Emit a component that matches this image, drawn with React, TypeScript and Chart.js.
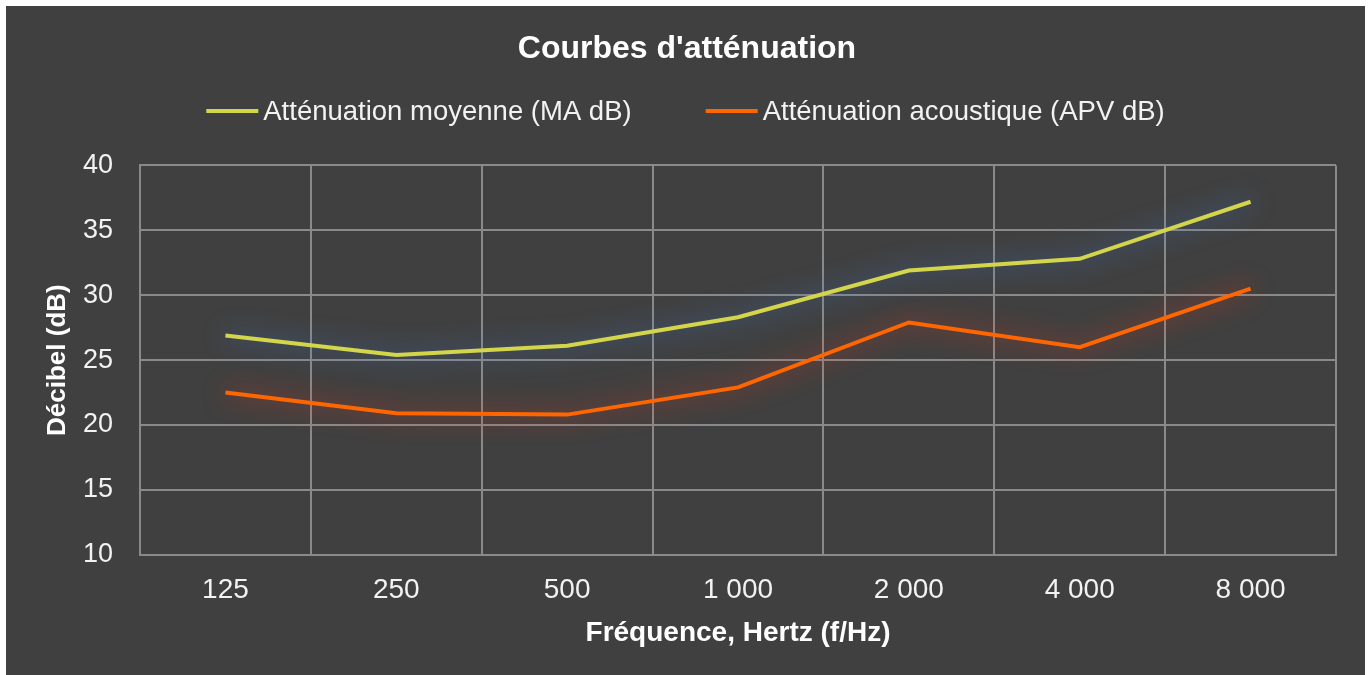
import React, { useEffect, useRef } from "react";
import { Chart, registerables } from "chart.js";

Chart.register(...registerables);

const categories = ["125", "250", "500", "1 000", "2 000", "4 000", "8 000"];
const meanAttenuation = [26.9, 25.4, 26.1, 28.3, 31.9, 32.8, 37.2];
const acousticAttenuation = [22.5, 20.9, 20.8, 22.9, 27.9, 26.0, 30.5];
const seriesLabels = ["Atténuation moyenne (MA dB)", "Atténuation acoustique (APV dB)"];
const yTicks = [10, 15, 20, 25, 30, 35, 40];

const LINE_COLORS = ["#d3d64b", "#ff6600"];
const GLOW_COLORS = ["rgba(70,120,195,0.95)", "rgba(225,55,25,0.9)"];
const FONT = "'Liberation Sans', Arial, sans-serif";

const glowPlugin = {
  id: "glow",
  beforeDatasetDraw(chart: any, args: any) {
    const ctx = chart.ctx;
    ctx.save();
    ctx.shadowColor = GLOW_COLORS[args.index];
    ctx.shadowBlur = 24;
    ctx.shadowOffsetX = 0;
    ctx.shadowOffsetY = 0;
  },
  afterDatasetDraw(chart: any) {
    chart.ctx.restore();
  },
};

const legendPlugin = {
  id: "customLegend",
  afterDraw(chart: any) {
    const ctx = chart.ctx;
    ctx.save();
    ctx.font = `27.5px ${FONT}`;
    const boxW = 52;
    const gap = 5;
    const itemGap = 74;
    const widths = chart.data.datasets.map((d: any) => ctx.measureText(d.label).width);
    let total = 0;
    widths.forEach((w: number, i: number) => {
      total += boxW + gap + w + (i > 0 ? itemGap : 0);
    });
    let x = chart.width / 2 - total / 2;
    const y = 105;
    chart.data.datasets.forEach((d: any, i: number) => {
      ctx.fillStyle = LINE_COLORS[i];
      ctx.fillRect(x, y - 2, boxW, 4);
      x += boxW + gap;
      ctx.fillStyle = "#f2f2f2";
      ctx.textBaseline = "middle";
      ctx.textAlign = "left";
      ctx.fillText(d.label, x, y + 1);
      x += widths[i] + itemGap;
    });
    ctx.restore();
  },
};

export default function App() {
  const ref = useRef<HTMLCanvasElement | null>(null);
  useEffect(() => {
    if (!ref.current) return;
    const chart = new Chart(ref.current, {
      type: "line",
      data: {
        labels: categories,
        datasets: [
          {
            label: seriesLabels[0],
            data: meanAttenuation,
            borderColor: LINE_COLORS[0],
            backgroundColor: LINE_COLORS[0],
            borderWidth: 4,
            pointRadius: 0,
            tension: 0,
          },
          {
            label: seriesLabels[1],
            data: acousticAttenuation,
            borderColor: LINE_COLORS[1],
            backgroundColor: LINE_COLORS[1],
            borderWidth: 4,
            pointRadius: 0,
            tension: 0,
          },
        ],
      },
      options: {
        animation: false,
        responsive: false,
        layout: { padding: { left: 32, right: 29, top: 0, bottom: 21 } },
        plugins: {
          legend: { display: false },
          tooltip: { enabled: false },
          title: {
            display: true,
            text: "Courbes d'atténuation",
            color: "#ffffff",
            font: { family: FONT, size: 32, weight: "bold" },
            padding: { top: 24, bottom: 97 },
          },
        },
        scales: {
          x: {
            offset: true,
            grid: { color: "#8a8a8a", lineWidth: 2, offset: true, drawTicks: false },
            border: { color: "#8a8a8a", width: 2 },
            ticks: { color: "#f2f2f2", font: { family: FONT, size: 28 }, padding: 19, maxRotation: 0 },
            title: {
              display: true,
              text: "Fréquence, Hertz (f/Hz)",
              color: "#ffffff",
              font: { family: FONT, size: 28, weight: "bold" },
              padding: { top: -10, bottom: 4 },
            },
          },
          y: {
            min: 10,
            max: 40,
            afterBuildTicks(scale: any) {
              scale.ticks = yTicks.map((v) => ({ value: v }));
            },
            afterFit(scale: any) {
              scale.width = 102;
            },
            grid: { color: "#8a8a8a", lineWidth: 2, drawTicks: false },
            border: { color: "#8a8a8a", width: 2 },
            ticks: { color: "#f2f2f2", font: { family: FONT, size: 27 }, padding: 27 },
            title: {
              display: true,
              text: "Décibel (dB)",
              color: "#ffffff",
              font: { family: FONT, size: 26, weight: "bold" },
              padding: 4,
            },
          },
        },
      },
      plugins: [glowPlugin, legendPlugin],
    });
    return () => chart.destroy();
  }, []);

  return (
    <div
      style={{
        position: "absolute",
        left: 6,
        top: 6,
        width: 1359,
        height: 669,
        background: "#404040",
      }}
    >
      <canvas ref={ref} width={1359} height={669} />
    </div>
  );
}
